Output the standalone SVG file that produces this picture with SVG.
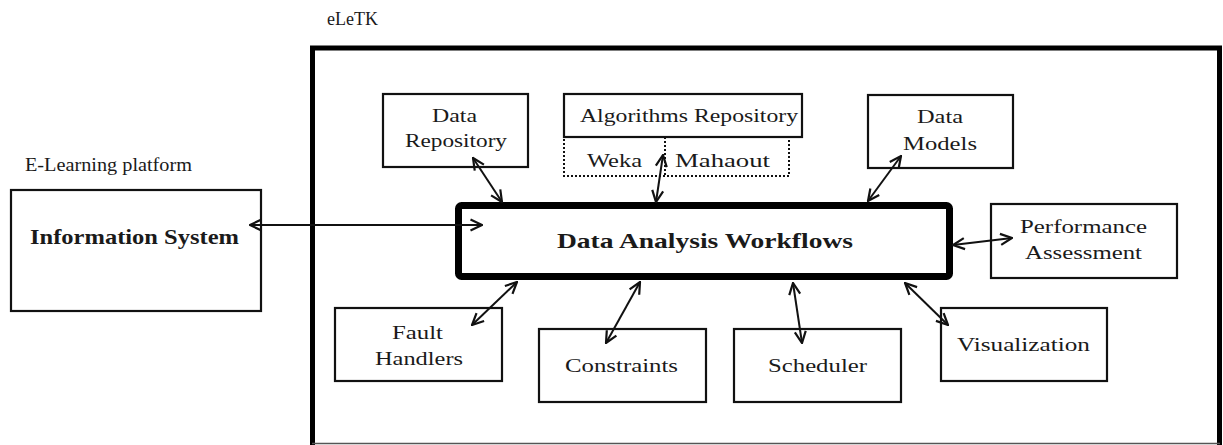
<svg xmlns="http://www.w3.org/2000/svg" width="1223" height="445" viewBox="0 0 1223 445">
  <style>
    .box { fill: #fff; stroke: #111; stroke-width: 2.2; }
    .dot { fill: none; stroke: #111; stroke-width: 2; stroke-dasharray: 2 2; }
    .t { font-family: "Liberation Serif", "Times New Roman", serif; font-size: 18px; fill: #1a1a1a; text-anchor: start; }
    .b { font-family: "Liberation Serif", "Times New Roman", serif; font-weight: bold; fill: #1a1a1a; }
    .c { fill: none; stroke: #111; stroke-width: 2; }
  </style>
  <defs>
    <marker id="ah" viewBox="0 0 14 14" refX="13" refY="7" markerWidth="14" markerHeight="14" markerUnits="userSpaceOnUse" orient="auto-start-reverse">
      <path d="M1.5,1.5 L13,7 L1.5,12.5" fill="none" stroke="#111" stroke-width="2.2"/>
    </marker>
  </defs>
  <rect width="1223" height="445" fill="#fff"/>

  <g id="eletk">
    <text class="t" x="327" y="25" font-size="15" textLength="51" lengthAdjust="spacingAndGlyphs">eLeTK</text>
    <path d="M312.5,445 V48 H1219.5 V445" fill="none" stroke="#000" stroke-width="5"/>
    <line x1="312" y1="443.5" x2="1220" y2="443.5" stroke="#555" stroke-width="1.5"/>
  </g>

  <g id="elearning">
    <text class="t" x="25" y="171" font-size="16" textLength="167" lengthAdjust="spacingAndGlyphs">E-Learning platform</text>
  </g>

  <g id="information-system">
    <rect class="box" x="11" y="190" width="250" height="121"/>
    <text class="b" x="30" y="244" font-size="21" textLength="209" lengthAdjust="spacingAndGlyphs">Information System</text>
  </g>

  <g id="data-analysis-workflows">
    <rect x="458.5" y="205.5" width="491" height="71" rx="3" fill="#fff" stroke="#000" stroke-width="7"/>
    <text class="b" x="557" y="248" font-size="22" textLength="296" lengthAdjust="spacingAndGlyphs">Data Analysis Workflows</text>
  </g>

  <g id="data-repository">
    <rect class="box" x="383" y="94" width="145" height="73"/>
    <text class="t" x="432" y="122" textLength="45" lengthAdjust="spacingAndGlyphs">Data</text>
    <text class="t" x="405" y="147" textLength="102" lengthAdjust="spacingAndGlyphs">Repository</text>
  </g>

  <g id="algorithms-repository">
    <rect class="box" x="564" y="94" width="238" height="43"/>
    <text class="t" x="580" y="122" textLength="218" lengthAdjust="spacingAndGlyphs">Algorithms Repository</text>
    <rect class="dot" x="564" y="137" width="225" height="39"/>
    <line class="dot" x1="665" y1="137" x2="665" y2="176"/>
    <text class="t" x="587" y="167" textLength="55" lengthAdjust="spacingAndGlyphs">Weka</text>
    <text class="t" x="675" y="167" textLength="95" lengthAdjust="spacingAndGlyphs">Mahaout</text>
  </g>

  <g id="data-models">
    <rect class="box" x="868" y="95" width="145" height="73"/>
    <text class="t" x="917" y="123" textLength="46" lengthAdjust="spacingAndGlyphs">Data</text>
    <text class="t" x="903" y="150" textLength="74" lengthAdjust="spacingAndGlyphs">Models</text>
  </g>

  <g id="performance-assessment">
    <rect class="box" x="991" y="204" width="186" height="74"/>
    <text class="t" x="1020" y="233" textLength="127" lengthAdjust="spacingAndGlyphs">Performance</text>
    <text class="t" x="1025" y="259" textLength="117" lengthAdjust="spacingAndGlyphs">Assessment</text>
  </g>

  <g id="fault-handlers">
    <rect class="box" x="335" y="308" width="167" height="73"/>
    <text class="t" x="392" y="339" textLength="51" lengthAdjust="spacingAndGlyphs">Fault</text>
    <text class="t" x="375" y="365" textLength="88" lengthAdjust="spacingAndGlyphs">Handlers</text>
  </g>

  <g id="constraints">
    <rect class="box" x="539" y="329" width="167" height="73"/>
    <text class="t" x="565" y="372" textLength="113" lengthAdjust="spacingAndGlyphs">Constraints</text>
  </g>

  <g id="scheduler">
    <rect class="box" x="734" y="329" width="167" height="73"/>
    <text class="t" x="768" y="372" textLength="99" lengthAdjust="spacingAndGlyphs">Scheduler</text>
  </g>

  <g id="visualization">
    <rect class="box" x="941" y="308" width="166" height="73"/>
    <text class="t" x="957" y="351" textLength="133" lengthAdjust="spacingAndGlyphs">Visualization</text>
  </g>

  <g id="connectors">
    <line class="c" x1="250" y1="225" x2="482" y2="225" marker-start="url(#ah)" marker-end="url(#ah)"/>
    <line class="c" x1="473" y1="158" x2="502" y2="202" marker-start="url(#ah)" marker-end="url(#ah)"/>
    <line class="c" x1="663" y1="155" x2="656" y2="202" marker-start="url(#ah)" marker-end="url(#ah)"/>
    <line class="c" x1="901" y1="156" x2="868" y2="201" marker-start="url(#ah)" marker-end="url(#ah)"/>
    <line class="c" x1="953" y1="245" x2="1012" y2="238" marker-start="url(#ah)" marker-end="url(#ah)"/>
    <line class="c" x1="517" y1="282" x2="472" y2="325" marker-start="url(#ah)" marker-end="url(#ah)"/>
    <line class="c" x1="640" y1="282" x2="606" y2="343" marker-start="url(#ah)" marker-end="url(#ah)"/>
    <line class="c" x1="793" y1="283" x2="802" y2="343" marker-start="url(#ah)" marker-end="url(#ah)"/>
    <line class="c" x1="905" y1="283" x2="948" y2="325" marker-start="url(#ah)" marker-end="url(#ah)"/>
  </g>
</svg>
